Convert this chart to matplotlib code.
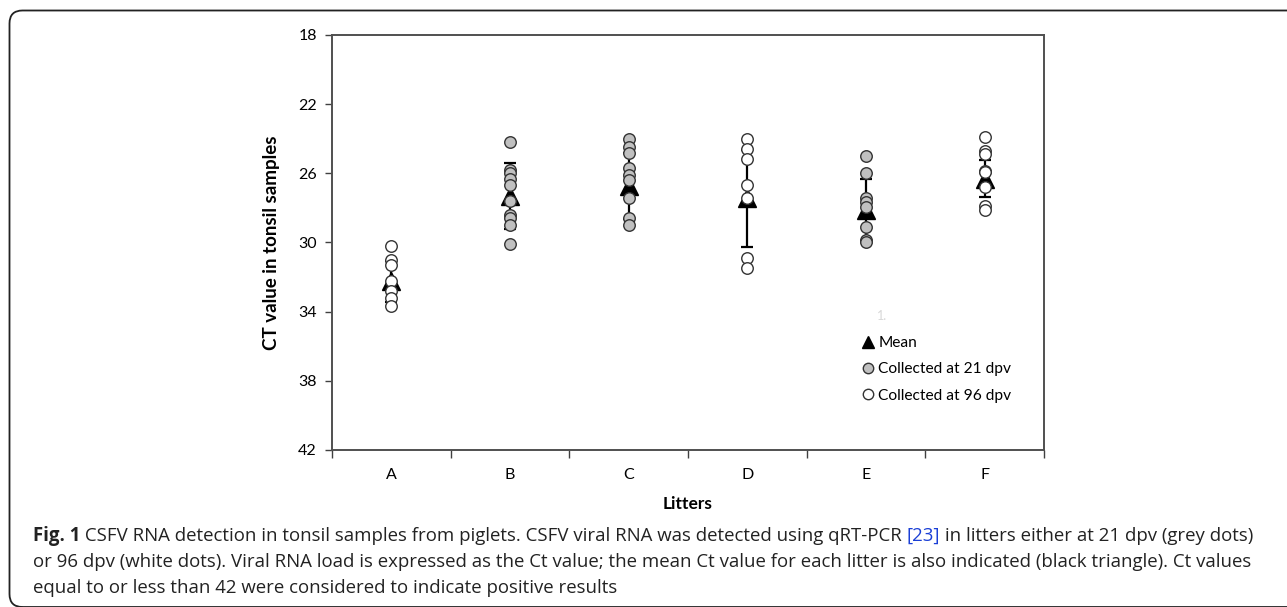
import matplotlib
matplotlib.use("Agg")
import matplotlib.pyplot as plt
from matplotlib.patches import FancyBboxPatch
from matplotlib.transforms import IdentityTransform
from matplotlib.lines import Line2D

# Ct values per litter
litters = ["A", "B", "C", "D", "E", "F"]
ct_a = [30.2, 31.0, 31.3, 32.2, 32.8, 33.2, 33.7]
ct_b = [24.2, 25.8, 26.0, 26.3, 26.7, 27.6, 28.4, 28.6, 29.0, 30.1]
ct_c = [24.0, 24.45, 24.85, 25.7, 26.1, 26.4, 27.45, 28.6, 29.0]
ct_d = [24.0, 24.6, 25.2, 26.7, 27.4, 30.9, 31.45]
ct_e = [25.0, 26.0, 27.4, 27.65, 27.95, 29.1, 29.85, 30.0]
ct_f = [23.9, 24.7, 24.9, 25.85, 25.95, 26.8, 27.9, 28.1]
ct_values = [ct_a, ct_b, ct_c, ct_d, ct_e, ct_f]
collected = ["96", "21", "21", "96", "21", "96"]   # dpv of collection
ct_mean = [32.25, 27.3, 26.75, 27.45, 28.1, 26.3]
ct_sd = [1.2, 1.9, 1.9, 2.8, 1.8, 1.05]
yticks = [18, 22, 26, 30, 34, 38, 42]

W, H = 1287, 607
fig = plt.figure(figsize=(W / 100, H / 100), dpi=100)
ax = fig.add_axes([332 / W, 1 - 450 / H, (1044 - 332) / W, (450 - 35) / H])

chart_font = "Lato"
fill = {"21": "#c0c0c0", "96": "white"}
xs = list(range(len(litters)))

ax.errorbar(xs, ct_mean, yerr=ct_sd, fmt="none", ecolor="black",
            elinewidth=1.6, capsize=4, capthick=1.6, zorder=2)
ax.plot(xs, ct_mean, linestyle="none", marker="^", markersize=13,
        color="black", zorder=3)
for x, vals, c in zip(xs, ct_values, collected):
    ax.plot([x] * len(vals), vals, linestyle="none", marker="o",
            markersize=8.3, markerfacecolor=fill[c], markeredgecolor="#333333",
            markeredgewidth=1.0, zorder=4)

ax.set_ylim(42, 18)
ax.set_yticks(yticks)
ax.set_yticklabels([str(t) for t in yticks], fontsize=11.5, family=chart_font)
ax.set_xlim(-0.5, len(litters) - 0.5)
ax.set_xticks(xs)
ax.set_xticklabels(litters, fontsize=11.5, family=chart_font)
ax.set_xticks([x - 0.5 for x in range(len(litters) + 1)], minor=True)
ax.tick_params(axis="x", which="major", length=0, pad=13)
ax.tick_params(axis="x", which="minor", length=6, width=1.0, direction="out",
               color="#404040")
ax.tick_params(axis="y", length=5, width=1.0, direction="out", color="#404040",
               pad=6)
for s in ax.spines.values():
    s.set_linewidth(1.4)
    s.set_color("#505050")

ax.set_ylabel("CT value in tonsil samples", fontsize=13.5, fontweight="bold",
              family=chart_font, labelpad=13)
ax.set_xlabel("Litters", fontsize=12.5, fontweight="bold", family=chart_font,
              labelpad=10)

# legend inside plot area
handles = [
    Line2D([], [], linestyle="none", marker="^", markersize=9, color="black"),
    Line2D([], [], linestyle="none", marker="o", markersize=7.5,
           markerfacecolor=fill["21"], markeredgecolor="#333333"),
    Line2D([], [], linestyle="none", marker="o", markersize=7.5,
           markerfacecolor="white", markeredgecolor="#333333"),
]
leg = ax.legend(handles, ["Mean", "Collected at 21 dpv", "Collected at 96 dpv"],
                loc="upper left", bbox_to_anchor=(0.738, 0.289), frameon=False,
                handlelength=0.6, handletextpad=0.35, labelspacing=0.78,
                borderaxespad=0, prop={"family": chart_font, "size": 11.2})
ax.text(0.765, 0.313, "1.", transform=ax.transAxes, fontsize=9,
        color="#d8d8d8", family=chart_font)

# caption frame (cropped box, rounded corners)
frame = FancyBboxPatch((9.5, 0), 1400, H - 10.5,
                       boxstyle="round,pad=0,rounding_size=13",
                       transform=IdentityTransform(), facecolor="none",
                       edgecolor="#222222", linewidth=1.3)
fig.patches.append(frame)

cap_font = "Open Sans"
cap_size = 13.4
cap_lines = [
    [("Fig. 1", "bold", "#222222"),
     (" CSFV RNA detection in tonsil samples from piglets. CSFV viral RNA was "
      "detected using qRT-PCR ", "normal", "#222222"),
     ("[23]", "normal", "#1a3fd6"),
     (" in litters either at 21 dpv (grey dots)", "normal", "#222222")],
    [("or 96 dpv (white dots). Viral RNA load is expressed as the Ct value; the "
      "mean Ct value for each litter is also indicated (black triangle). Ct values",
      "normal", "#222222")],
    [("equal to or less than 42 were considered to indicate positive results",
      "normal", "#222222")],
]
cap_y = [536, 562, 588]

fig.canvas.draw()
renderer = fig.canvas.get_renderer()
for pieces, yy in zip(cap_lines, cap_y):
    x = 33
    for txt, weight, col in pieces:
        t = fig.text(x / W, 1 - yy / H, txt, fontsize=cap_size, fontweight=weight,
                     family=cap_font, color=col, va="center", ha="left")
        bb = t.get_window_extent(renderer=renderer)
        x = bb.x1

fig.savefig("out.png", dpi=100)
